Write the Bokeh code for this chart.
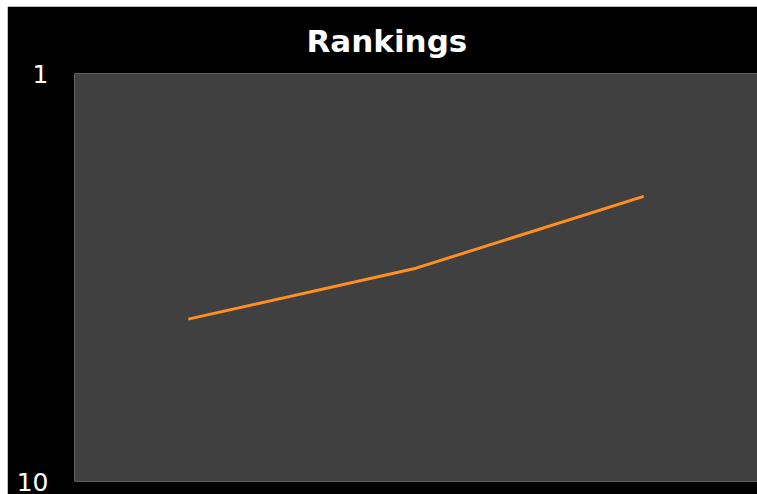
from bokeh.plotting import figure
from bokeh.models import FactorRange, Range1d, FixedTicker, CustomJSTickFormatter
from bokeh.embed import file_html
from bokeh.resources import INLINE

categories = ["Period 1", "Period 2", "Period 3"]
rankings = [4, 3, 2]
y_ticks = [1, 10]

p = figure(width=750, height=488, output_backend="svg", toolbar_location=None,
           x_range=FactorRange(*categories), y_range=Range1d(10, 1),
           y_axis_type="log", title="Rankings")
p.styles = {"margin-left": "7px", "margin-top": "6px"}
p.min_border_left = 67
p.min_border_right = 0
p.min_border_bottom = 13
p.min_border_top = 0

p.border_fill_color = "black"
p.background_fill_color = "#404040"
p.outline_line_color = None

p.title.text_color = "white"
p.title.text_font = "DejaVu Sans"
p.title.text_font_style = "bold"
p.title.text_font_size = "31px"
p.title.align = "left"
p.title.offset = 232
p.title.standoff = 29

p.line(x=categories, y=rankings, line_color="#ff8f1f", line_width=3)

p.xaxis.visible = False
p.xgrid.visible = False
p.ygrid.visible = False

ya = p.yaxis[0]
ya.ticker = FixedTicker(ticks=y_ticks, minor_ticks=[])
ya.formatter = CustomJSTickFormatter(code="return tick.toString();")
ya.axis_line_color = None
ya.major_tick_line_color = None
ya.minor_tick_line_color = None
ya.major_tick_out = 0
ya.major_tick_in = 0
ya.minor_tick_out = 0
ya.major_label_standoff = 26
ya.major_label_text_color = "white"
ya.major_label_text_font = "DejaVu Sans"
ya.major_label_text_font_size = "25px"

open("out.html", "w").write(file_html(p, INLINE))
